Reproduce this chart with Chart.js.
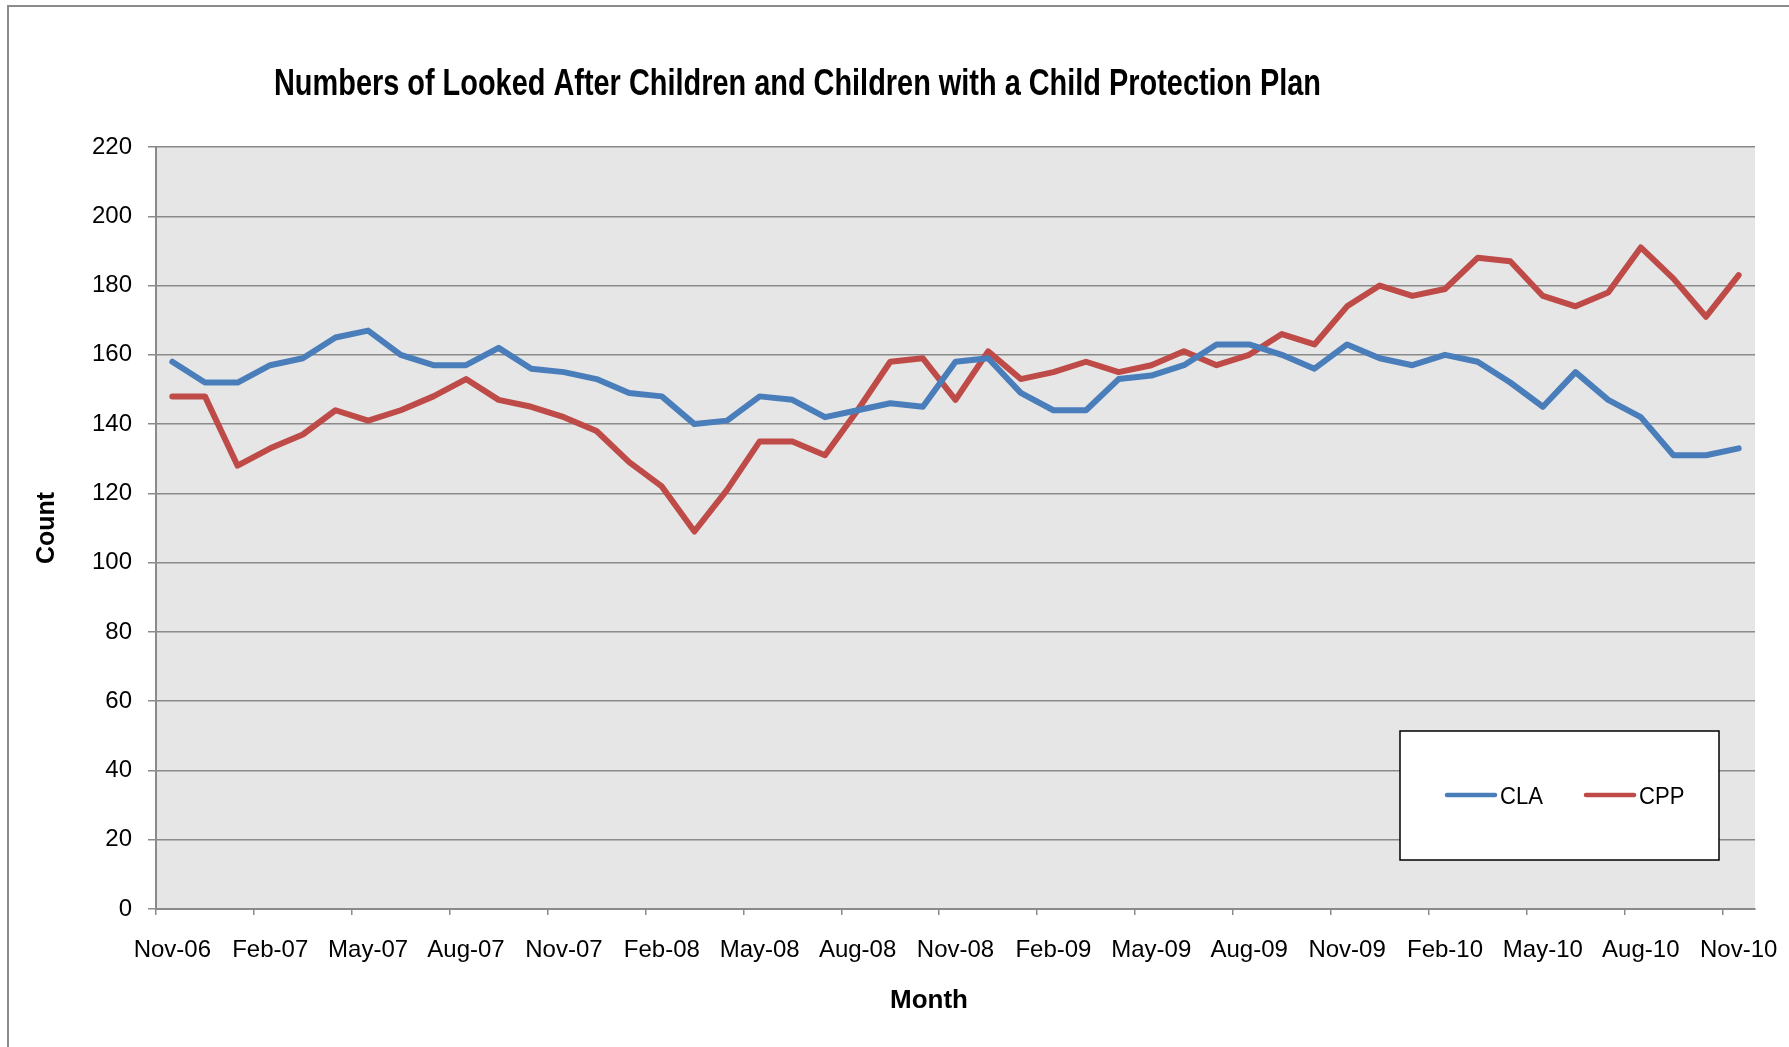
<!DOCTYPE html>
<html>
<head>
<meta charset="utf-8">
<title>Looked After Children and Child Protection Plans</title>
<script src="https://cdn.jsdelivr.net/npm/chart.js"></script>
<style>
  html, body { margin: 0; padding: 0; background: #fff; }
  #wrap { width: 1789px; height: 1047px; }
</style>
</head>
<body>
<div id="wrap"><canvas id="chart" width="1789" height="1047"></canvas></div>
<script>
// month labels, Nov-06 .. Nov-10 (only every 3rd one is printed on the axis)
const months = [
  'Nov-06', 'Dec-06', 'Jan-07', 'Feb-07', 'Mar-07', 'Apr-07', 'May-07', 'Jun-07', 'Jul-07',
  'Aug-07', 'Sep-07', 'Oct-07', 'Nov-07', 'Dec-07', 'Jan-08', 'Feb-08', 'Mar-08', 'Apr-08',
  'May-08', 'Jun-08', 'Jul-08', 'Aug-08', 'Sep-08', 'Oct-08', 'Nov-08', 'Dec-08', 'Jan-09',
  'Feb-09', 'Mar-09', 'Apr-09', 'May-09', 'Jun-09', 'Jul-09', 'Aug-09', 'Sep-09', 'Oct-09',
  'Nov-09', 'Dec-09', 'Jan-10', 'Feb-10', 'Mar-10', 'Apr-10', 'May-10', 'Jun-10', 'Jul-10',
  'Aug-10', 'Sep-10', 'Oct-10', 'Nov-10'
];

// Children Looked After
const claCounts = [
  158, 152, 152, 157, 159, 165, 167, 160, 157, 157, 162, 156, 155,
  153, 149, 148, 140, 141, 148, 147, 142, 144, 146, 145, 158,
  159, 149, 144, 144, 153, 154, 157, 163, 163, 160, 156, 163,
  159, 157, 160, 158, 152, 145, 155, 147, 142, 131, 131, 133
];

// Children with a Child Protection Plan
const cppCounts = [
  148, 148, 128, 133, 137, 144, 141, 144, 148, 153, 147, 145, 142,
  138, 129, 122, 109, 121, 135, 135, 131, 144, 158, 159, 147,
  161, 153, 155, 158, 155, 157, 161, 157, 160, 166, 163, 174,
  180, 177, 179, 188, 187, 177, 174, 178, 191, 182, 171, 183
];

const labelEvery = 3;
const chartTitle = 'Numbers of Looked After Children and Children with a Child Protection Plan';
const xTitle = 'Month';

const GRID = '#8a8a8a';
const FONT = '"Liberation Sans", Arial, sans-serif';

// white page, thin frame and grey plot area
const backdrop = {
  id: 'backdrop',
  beforeDraw(chart) {
    const { ctx, chartArea: a } = chart;
    ctx.save();
    ctx.fillStyle = '#fff';
    ctx.fillRect(0, 0, chart.width, chart.height);
    ctx.strokeStyle = '#8c8c8c';
    ctx.lineWidth = 2;
    ctx.beginPath();
    ctx.moveTo(8, chart.height);
    ctx.lineTo(8, 6);
    ctx.lineTo(chart.width, 6);
    ctx.stroke();
    ctx.fillStyle = '#e6e6e6';
    ctx.fillRect(a.left, a.top, a.right - a.left, a.bottom - a.top);
    ctx.restore();
  }
};

// title (narrow, like the original), x axis title and the boxed legend
const overlay = {
  id: 'overlay',
  afterDraw(chart) {
    const { ctx } = chart;
    ctx.save();
    ctx.fillStyle = '#000';
    ctx.font = 'bold 36px ' + FONT;
    ctx.textBaseline = 'alphabetic';
    const w = ctx.measureText(chartTitle).width;
    ctx.translate(274, 95);
    ctx.scale(1047 / w, 1);
    ctx.fillText(chartTitle, 0, 0);
    ctx.restore();

    // "Month" sits a little left of the plot centre in the original
    ctx.save();
    ctx.fillStyle = '#000';
    ctx.font = 'bold 26px ' + FONT;
    ctx.textAlign = 'center';
    ctx.textBaseline = 'middle';
    ctx.fillText(xTitle, 929, 1001);
    ctx.restore();

    // legend box
    ctx.save();
    ctx.fillStyle = '#fff';
    ctx.fillRect(1400, 731, 319, 129);
    ctx.strokeStyle = '#000';
    ctx.lineWidth = 1.5;
    ctx.strokeRect(1400, 731, 319, 129);
    const spots = [1447, 1586];
    ctx.font = '24px ' + FONT;
    ctx.textBaseline = 'middle';
    chart.data.datasets.forEach((ds, i) => {
      const x = spots[i];
      ctx.strokeStyle = ds.borderColor;
      ctx.lineWidth = 4.5;
      ctx.lineCap = 'round';
      ctx.beginPath();
      ctx.moveTo(x, 795);
      ctx.lineTo(x + 48, 795);
      ctx.stroke();
      ctx.fillStyle = '#000';
      ctx.save();
      ctx.translate(x + 53, 797);
      ctx.scale(0.92, 1);
      ctx.fillText(ds.label, 0, 0);
      ctx.restore();
    });
    ctx.restore();
  }
};

const lineStyle = {
  borderWidth: 6,
  pointRadius: 0,
  pointHoverRadius: 0,
  tension: 0,
  fill: false,
  borderCapStyle: 'round',
  borderJoinStyle: 'round'
};

new Chart(document.getElementById('chart'), {
  type: 'line',
  data: {
    labels: months,
    datasets: [
      { label: 'CLA', data: claCounts, borderColor: '#4a7ebb', ...lineStyle },
      { label: 'CPP', data: cppCounts, borderColor: '#be4b48', ...lineStyle }
    ]
  },
  options: {
    responsive: false,
    animation: false,
    devicePixelRatio: 1,
    layout: { padding: { left: 0, right: 34, top: 147, bottom: 0 } },
    plugins: {
      legend: { display: false },
      title: { display: false },
      tooltip: { enabled: false }
    },
    scales: {
      x: {
        type: 'category',
        offset: true,
        afterFit: (scale) => {
          scale.height = 138;
          scale.paddingLeft = 0;
          scale.paddingRight = 0;
        },
        grid: {
          offset: true,
          drawOnChartArea: false,
          drawTicks: true,
          tickLength: 6,
          lineWidth: 1.5,
          tickColor: (c) => (c.index % labelEvery === 0 ? GRID : 'rgba(0,0,0,0)')
        },
        border: { color: GRID, width: 2 },
        ticks: {
          autoSkip: false,
          maxRotation: 0,
          minRotation: 0,
          padding: 21,
          color: '#000',
          font: { family: FONT, size: 24 },
          callback: function (v, i) {
            return i % labelEvery === 0 ? this.getLabelForValue(v) : '';
          }
        }
      },
      y: {
        min: 0,
        max: 220,
        afterFit: (scale) => { scale.width = 156; },
        grid: {
          color: GRID,
          lineWidth: 1.5,
          drawTicks: true,
          tickLength: 8
        },
        border: { color: GRID, width: 2 },
        ticks: {
          stepSize: 20,
          padding: 16,
          color: '#000',
          font: { family: FONT, size: 24 }
        },
        title: {
          display: true,
          text: 'Count',
          color: '#000',
          font: { family: FONT, size: 25, weight: 'bold' },
          padding: { top: 32, bottom: 0 }
        }
      }
    }
  },
  plugins: [backdrop, overlay]
});
</script>
</body>
</html>
